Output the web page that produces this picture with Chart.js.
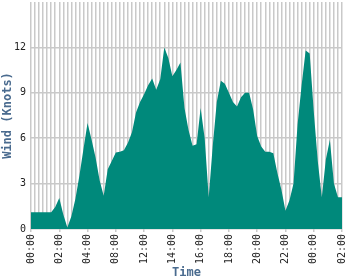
<!DOCTYPE html>
<html>
<head>
<meta charset="utf-8">
<script src="https://cdn.jsdelivr.net/npm/chart.js@4/dist/chart.umd.min.js"></script>
<style>
  html, body { margin: 0; padding: 0; background: #fff; }
  #wrap { width: 350px; height: 280px; }
</style>
</head>
<body>
<div id="wrap"><canvas id="wind-chart"></canvas></div>
<script>
// Wind speed readings (knots), one per grid step, 7 steps between labels
const tickLabels = ["00:00", "02:00", "04:00", "08:00", "12:00", "14:00",
  "16:00", "18:00", "20:00", "22:00", "00:00", "02:00"];
const windKnots = [
  1.1, 1.1, 1.1, 1.1, 1.1, 1.1, 1.45, 2.05, 0.95, 0.1,
  0.85, 2.0, 3.55, 5.3, 7.0, 5.9, 4.7, 3.2, 2.2, 3.95,
  4.5, 5.05, 5.1, 5.2, 5.7, 6.4, 7.7, 8.4, 8.9, 9.5,
  9.95, 9.2, 9.9, 12.0, 11.3, 10.1, 10.5, 11.0, 8.0, 6.55,
  5.5, 5.6, 8.0, 6.0, 2.1, 5.5, 8.4, 9.8, 9.6, 9.0,
  8.4, 8.1, 8.7, 9.0, 9.0, 7.9, 6.15, 5.45, 5.1, 5.1,
  5.0, 3.7, 2.6, 1.2, 1.9, 3.0, 6.9, 9.5, 11.8, 11.6,
  7.8, 4.5, 2.1, 4.6, 5.9, 3.0, 2.1, 2.1
];
const yTicks = [0, 3, 6, 9, 12];

const labels = windKnots.map((_, i) => (i % 7 === 0 ? tickLabels[i / 7] : ""));

const mono = "'DejaVu Sans Mono', 'Liberation Mono', monospace";
const titleColor = "#4a6b8f";
const gridColor = "#c9c9c9";

// drop the extra room Chart.js keeps for edge labels
const noEdgePadding = (scale) => {
  scale.paddingTop = 0;
  scale.paddingBottom = 0;
  scale.paddingLeft = 0;
  scale.paddingRight = 0;
};

new Chart(document.getElementById("wind-chart"), {
  type: "line",
  data: {
    labels: labels,
    datasets: [
      {
        data: windKnots,
        fill: "origin",
        backgroundColor: "#00897b",
        borderColor: "#00897b",
        borderWidth: 0,
        pointRadius: 0,
        tension: 0,
      },
    ],
  },
  options: {
    responsive: true,
    maintainAspectRatio: false,
    animation: false,
    layout: { padding: { top: 2, right: 8, bottom: 0, left: 0 } },
    plugins: {
      legend: { display: false },
      tooltip: { enabled: false },
    },
    scales: {
      x: {
        type: "category",
        offset: false,
        border: { display: false },
        grid: {
          color: gridColor,
          lineWidth: 1.5,
          tickLength: 3,
          tickColor: (ctx) => (labels[ctx.index] ? gridColor : "transparent"),
        },
        ticks: {
          autoSkip: false,
          minRotation: 90,
          maxRotation: 90,
          padding: 2,
          color: "#222",
          font: { family: mono, size: 10 },
          callback: (value, index) => labels[index],
        },
        title: {
          display: true,
          text: "Time",
          color: titleColor,
          padding: { top: 0, bottom: 0 },
          font: { family: mono, size: 12, weight: "bold" },
        },
        afterFit: (scale) => {
          scale.height = 51;
          noEdgePadding(scale);
        },
      },
      y: {
        min: 0,
        max: 15,
        border: { display: false },
        afterBuildTicks: (scale) => {
          scale.ticks = yTicks.concat([15]).map((v) => ({ value: v }));
        },
        grid: {
          color: (ctx) => (ctx.tick && ctx.tick.value === 15 ? "transparent" : gridColor),
          lineWidth: 1.5,
          drawTicks: false,
        },
        ticks: {
          padding: 5,
          color: "#222",
          font: { family: mono, size: 10 },
          callback: (value) => (yTicks.includes(value) ? value : ""),
        },
        title: {
          display: true,
          text: "Wind (Knots)",
          color: titleColor,
          padding: { top: 1, bottom: 0 },
          font: { family: mono, size: 12, weight: "bold" },
        },
        afterFit: (scale) => {
          scale.width = 31;
          noEdgePadding(scale);
        },
      },
    },
  },
});
</script>
</body>
</html>
